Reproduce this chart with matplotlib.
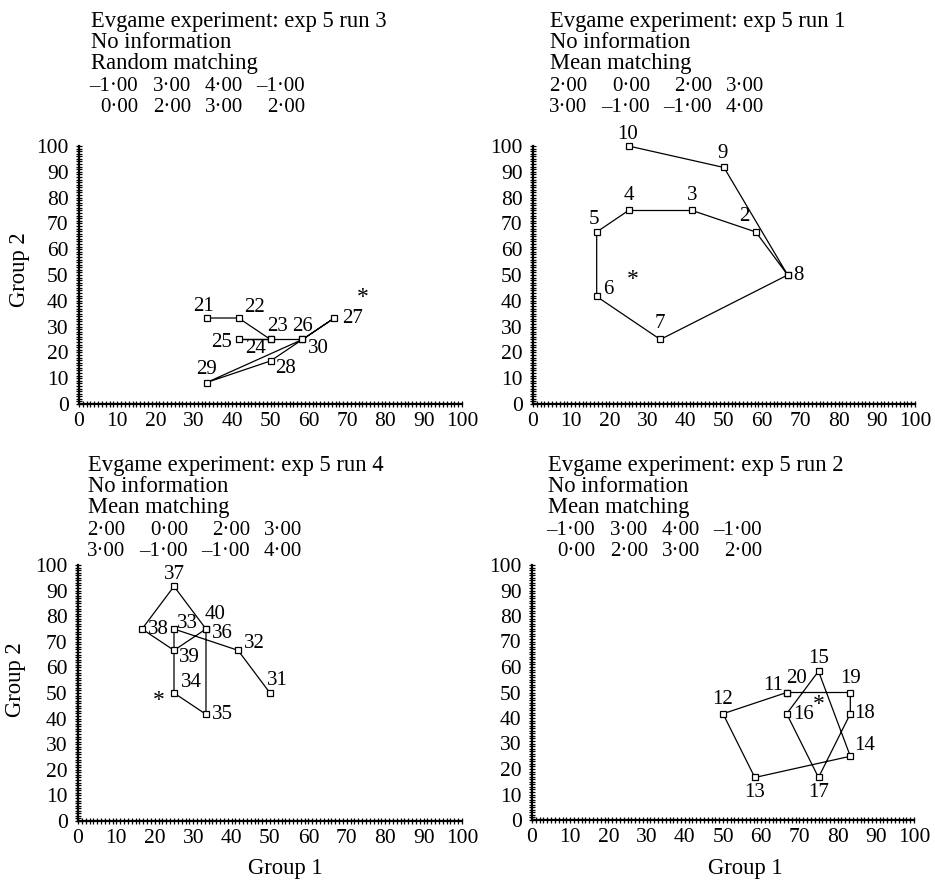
import matplotlib
matplotlib.use("Agg")
import matplotlib.pyplot as plt
from matplotlib.ticker import MultipleLocator

plt.rcParams['font.family'] = ['Liberation Serif', 'DejaVu Serif']

# Panel data: generation number, share of group 1, share of group 2
run3_gen = [21, 22, 23, 24, 25, 26, 27, 28, 29, 30]
run3_x = [33.33, 41.67, 50.0, 50.0, 41.67, 58.33, 66.67, 50.0, 33.33, 58.33]
run3_y = [33.33, 33.33, 25.0, 25.0, 25.0, 25.0, 33.33, 16.67, 8.33, 25.0]
run3_star = (74, 43)

run1_gen = [1, 2, 3, 4, 5, 6, 7, 8, 9, 10]
run1_x = [66.67, 58.33, 41.67, 25.0, 16.67, 16.67, 33.33, 66.67, 50.0, 25.0]
run1_y = [50.0, 66.67, 75.0, 75.0, 66.67, 41.67, 25.0, 50.0, 91.67, 100.0]
run1_star = (26, 50)

run4_gen = [31, 32, 33, 34, 35, 36, 37, 38, 39, 40]
run4_x = [50.0, 41.67, 25.0, 25.0, 33.33, 33.33, 25.0, 16.67, 25.0, 33.33]
run4_y = [50.0, 66.67, 75.0, 50.0, 41.67, 75.0, 91.67, 75.0, 66.67, 75.0]
run4_star = (21, 49)

run2_gen = [11, 12, 13, 14, 15, 16, 17, 18, 19, 20]
run2_x = [66.67, 50.0, 58.33, 83.33, 75.0, 66.67, 75.0, 83.33, 83.33, 66.67]
run2_y = [50.0, 41.67, 16.67, 25.0, 58.33, 41.67, 16.67, 41.67, 50.0, 50.0]
run2_star = (75, 47)

game_a = [[-1, 3, 4, -1], [0, 2, 3, 2]]
game_b = [[2, 0, 2, 3], [3, -1, -1, 4]]

titles = {
    'run3': ['Evgame experiment: exp 5 run 3', 'No information', 'Random matching'],
    'run1': ['Evgame experiment: exp 5 run 1', 'No information', 'Mean matching'],
    'run4': ['Evgame experiment: exp 5 run 4', 'No information', 'Mean matching'],
    'run2': ['Evgame experiment: exp 5 run 2', 'No information', 'Mean matching'],
}

# label offsets in pixels (dx, dy) per point
off_run3 = [(-3, 12), (16, 11), (7, 13), (-15, -9), (-17, -3), (0, 13), (18, 0), (15, -8), (0, 13), (16, -9)]
off_run1 = [None, (-12, 15), (0, 15), (0, 15), (-3, 12), (12, 7), (0, 16), (11, 0), (-1, 14), (-1, 12)]
off_run4 = [(7, 13), (16, 7), (13, 6), (17, 11), (16, 0), (16, -4), (0, 12), (16, 0), (15, -7), (9, 15)]
off_run2 = [(-14, 7), (0, 14), (0, -15), (14, 11), (0, 13), (17, -1), (0, -15), (14, 0), (0, 14), (10, 14)]

W, H = 935, 880
fig = plt.figure(figsize=(W / 100, H / 100), dpi=100)

FS = 16.3     # header / axis label text
NFS = 15      # payoff numbers
TFS = 15.5    # tick labels
PFS = 15      # point labels


def fmt(v):
    return f"{v:.2f}".replace('.', '\u00b7').replace('-', '\u2013')


def panel(rect, gen, xs, ys, star, offs, title, game, cols, tx, ty, xlabel, ylabel):
    ax = fig.add_axes([rect[0] / W, 1 - rect[3] / H, (rect[2] - rect[0]) / W, (rect[3] - rect[1]) / H])
    ax.plot(xs, ys, color='black', lw=0.9, marker='s', ms=4.5, mfc='white', mec='black',
            mew=0.9, clip_on=False, zorder=3)
    for g, x, y, o in zip(gen, xs, ys, offs):
        if o is None:
            continue
        ax.annotate(str(g), (x, y), xytext=o, textcoords='offset pixels',
                    ha='center', va='center', fontsize=PFS)
    # asterisk glyph, baseline shifted so the glyph itself sits on the point
    ax.annotate('*', star, xytext=(0, -10), textcoords='offset pixels',
                ha='center', va='baseline', fontsize=17)
    ax.set_xlim(0, 100)
    ax.set_ylim(0, 100)
    ax.set_xticks(range(0, 101, 10))
    ax.set_yticks(range(0, 101, 10))
    ax.xaxis.set_minor_locator(MultipleLocator(1))
    ax.yaxis.set_minor_locator(MultipleLocator(1))
    ax.tick_params(which='both', direction='inout', length=5, width=0.9, labelsize=TFS)
    ax.tick_params(axis='x', pad=3)
    ax.tick_params(axis='y', pad=5)
    for s in ['top', 'right']:
        ax.spines[s].set_visible(False)
    for s in ['left', 'bottom']:
        ax.spines[s].set_linewidth(1.6)
    ax.patch.set_alpha(0)

    # header text
    for i, line in enumerate(title):
        fig.text(tx / W, 1 - (ty + i * 21.3) / H, line, fontsize=FS, va='baseline', ha='left')
    for r, row in enumerate(game):
        for c, v in enumerate(row):
            fig.text((tx + cols[c]) / W, 1 - (ty + (3 + r) * 21.3) / H, fmt(v),
                     fontsize=NFS, va='baseline', ha='right')
    if xlabel:
        fig.text(xlabel[0] / W, 1 - xlabel[1] / H, 'Group 1', fontsize=FS, ha='center', va='center')
    if ylabel:
        fig.text(ylabel[0] / W, 1 - ylabel[1] / H, 'Group 2', fontsize=FS, ha='center', va='center',
                 rotation=90)


cols_a = [47, 100, 152, 214]
cols_b = [37, 100, 162, 214]

panel((79, 146, 462, 404), run3_gen, run3_x, run3_y, run3_star, off_run3, titles['run3'],
      game_a, cols_a, 91, 26.7, None, (19, 270))
panel((533, 146, 915, 404), run1_gen, run1_x, run1_y, run1_star, off_run1, titles['run1'],
      game_b, cols_b, 550, 26.7, None, None)
panel((78, 565, 462, 821), run4_gen, run4_x, run4_y, run4_star, off_run4, titles['run4'],
      game_b, cols_b, 88, 470.7, (285, 868), (16, 680))
panel((532, 565, 914, 820), run2_gen, run2_x, run2_y, run2_star, off_run2, titles['run2'],
      game_a, cols_a, 548, 470.7, (745, 868), None)

fig.savefig('out.png', dpi=100)
